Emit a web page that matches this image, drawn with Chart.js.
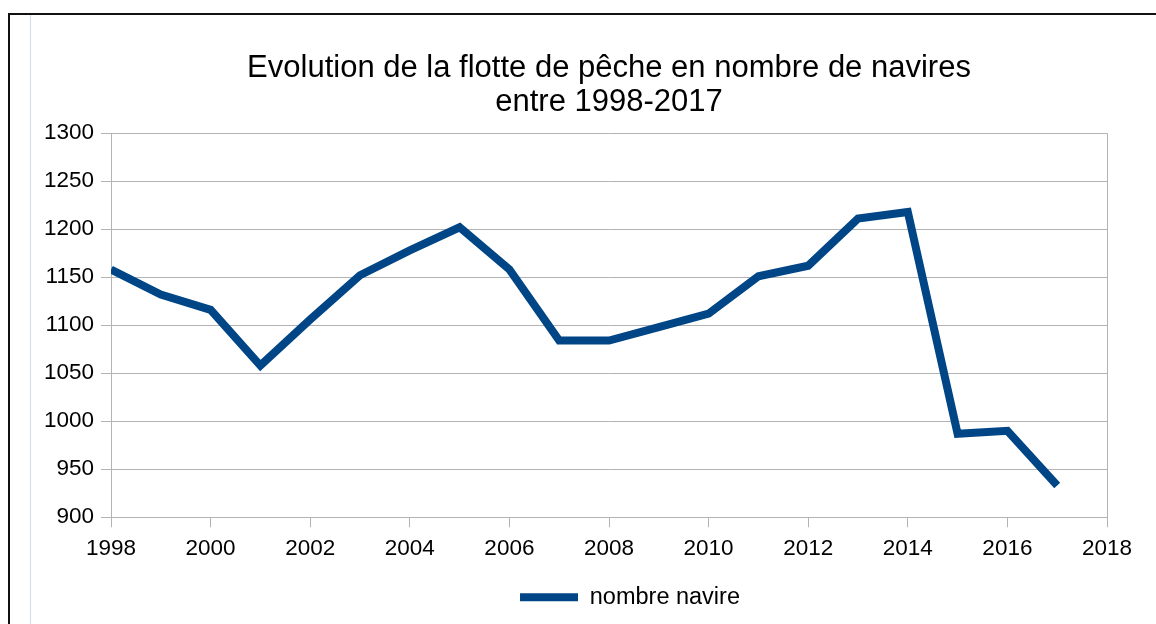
<!DOCTYPE html>
<html>
<head>
<meta charset="utf-8">
<script src="https://cdn.jsdelivr.net/npm/chart.js@4/dist/chart.umd.min.js"></script>
<style>
  html, body { margin: 0; padding: 0; background: #fff; }
  #wrap { position: relative; width: 1156px; height: 624px; overflow: hidden; }
  #frame { position: absolute; left: 8px; top: 13px; width: 1200px; height: 700px;
           border-top: 2px solid #111; border-left: 2px solid #111; box-sizing: border-box; }
  #guide { position: absolute; left: 30px; top: 15px; width: 1px; height: 620px; background: #d3dde8; }
  canvas { position: absolute; left: 0; top: 0; }
</style>
</head>
<body>
<div id="wrap">
  <div id="frame"></div>
  <div id="guide"></div>
  <canvas id="c" width="1156" height="624"></canvas>
</div>
<script>
// Fishing fleet size (number of vessels), 1998-2017
const years = [1998, 1999, 2000, 2001, 2002, 2003, 2004, 2005, 2006, 2007,
               2008, 2009, 2010, 2011, 2012, 2013, 2014, 2015, 2016, 2017];
const vessels = [1158, 1132, 1116, 1058, 1106, 1152, 1178, 1202, 1158, 1084,
                 1084, 1098, 1112, 1151, 1162, 1211, 1218, 987, 990, 933];
const seriesLabel = 'nombre navire';
const titleLines = ['Evolution de la flotte de pêche en nombre de navires', 'entre 1998-2017'];

const lineColor = '#004586';
const gridColor = '#b3b3b3';
const FONT = 'Liberation Sans, Arial, sans-serif';

Chart.defaults.font.family = FONT;
Chart.defaults.color = '#000';

// nudges the legend a little to the right of the plot centre
const legendNudge = {
  id: 'legendNudge',
  afterLayout(chart) {
    const lg = chart.legend;
    if (lg) { lg.left += 21; lg.right += 21; }
  }
};

new Chart(document.getElementById('c'), {
  type: 'line',
  data: {
    datasets: [{
      label: seriesLabel,
      data: years.map((y, i) => ({ x: y, y: vessels[i] })),
      borderColor: lineColor,
      backgroundColor: lineColor,
      borderWidth: 8,
      pointRadius: 0,
      tension: 0,
      borderJoinStyle: 'miter',
      borderCapStyle: 'butt',
      yAxisID: 'y'
    }]
  },
  plugins: [legendNudge],
  options: {
    responsive: false,
    animation: false,
    // symmetric side axes + shifted layout keep the title centred over the plot area
    layout: { padding: { left: 31, right: -31, top: 51, bottom: 5 } },
    plugins: {
      title: {
        display: true,
        text: titleLines,
        color: '#000',
        font: { size: 31, weight: 'normal', lineHeight: 1.1 },
        padding: { top: 0, bottom: 14 }
      },
      legend: {
        position: 'bottom',
        labels: {
          color: '#000',
          font: { size: 23.5 },
          boxWidth: 58,
          boxHeight: 8,
          padding: 19.25,
          generateLabels: (chart) => chart.data.datasets.map((ds, i) => ({
            text: ds.label,
            fillStyle: ds.borderColor,
            strokeStyle: ds.borderColor,
            lineWidth: 0,
            hidden: false,
            datasetIndex: i
          }))
        }
      },
      tooltip: { enabled: false }
    },
    scales: {
      x: {
        type: 'linear',
        min: 1998,
        max: 2018,
        ticks: {
          stepSize: 2,
          font: { size: 22.5 },
          color: '#000',
          padding: 8,
          maxRotation: 0,
          callback: v => String(v)
        },
        grid: {
          drawOnChartArea: true,
          color: ctx => (ctx.tick && ctx.tick.value === 2018) ? gridColor : 'rgba(0,0,0,0)',
          tickColor: gridColor,
          tickLength: 10,
          lineWidth: 1
        },
        border: { display: true, color: gridColor, width: 1 },
        afterFit: s => { s.height = 49; }
      },
      y: {
        position: 'left',
        min: 900,
        max: 1300,
        ticks: {
          stepSize: 50,
          font: { size: 22.5 },
          color: '#000',
          padding: 7,
          callback: v => String(v)
        },
        grid: {
          color: gridColor,
          tickColor: gridColor,
          tickLength: 10,
          lineWidth: 1
        },
        border: { display: true, color: gridColor, width: 1 },
        afterFit: s => { s.width = 80; }
      },
      // empty right-hand axis reserving the right margin
      yRight: {
        position: 'right',
        min: 900,
        max: 1300,
        ticks: { display: false },
        grid: { display: false },
        border: { display: false },
        afterFit: s => { s.width = 80; }
      }
    }
  }
});
</script>
</body>
</html>
